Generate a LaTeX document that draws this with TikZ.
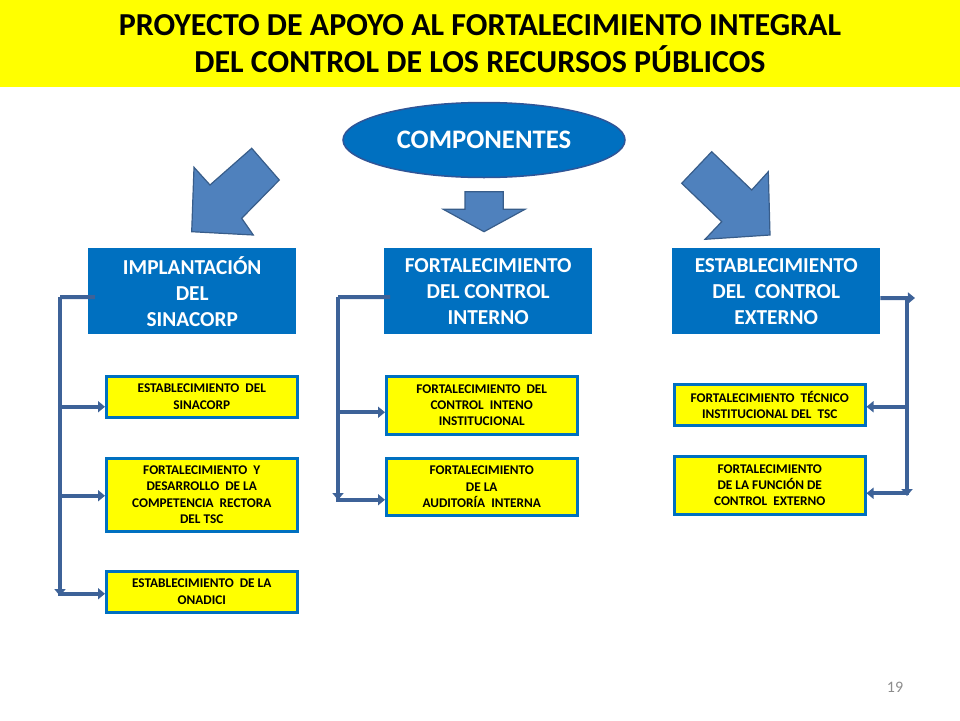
\documentclass[tikz,border=0pt]{standalone}
\usepackage{fontspec}
\setmainfont{Carlito}
\usetikzlibrary{shapes.geometric,arrows.meta}
\definecolor{ttlyellow}{HTML}{FFFF00}
\definecolor{boxblue}{HTML}{0070C0}
\definecolor{ellborder}{HTML}{2F5597}
\definecolor{arrfill}{HTML}{4F81BD}
\definecolor{arrdraw}{HTML}{385D8A}
\definecolor{connc}{HTML}{3D6298}
\definecolor{pgnum}{HTML}{8C8C8C}
\tikzset{
  bluebox/.style={anchor=north west, fill=boxblue, text=white, font=\bfseries\fontsize{21.3}{26}\selectfont,
    align=center, minimum width=208pt, minimum height=86pt, inner sep=0pt},
  ybox/.style={anchor=north west, fill=ttlyellow, draw=boxblue, line width=2.5pt, text=black,
    font=\bfseries\fontsize{13.3}{16.3}\selectfont, align=center, minimum width=191pt, inner sep=0pt},
  bigarrow/.style={fill=arrfill, draw=arrdraw, line width=1.2pt, line join=miter},
  conn/.style={draw=connc, line width=4pt},
  tipend/.style={-{Triangle[width=11pt,length=7pt]}},
}
\begin{document}
\begin{tikzpicture}[x=1pt,y=-1pt]
\useasboundingbox (0,0) rectangle (960,720);
% header
\fill[ttlyellow] (0,0) rectangle (960,87);
\node[font=\bfseries\fontsize{32}{37}\selectfont, align=center] (title) at (480,44)
  {PROYECTO DE APOYO AL FORTALECIMIENTO INTEGRAL\\DEL CONTROL DE LOS RECURSOS PÚBLICOS};
% ellipse
\node[ellipse, fill=boxblue, draw=ellborder, line width=1.5pt, minimum width=282pt, minimum height=75pt,
  inner sep=0pt, text=white, font=\bfseries\fontsize{26.7}{30}\selectfont] (comp) at (484,140) {COMPONENTES};
% big arrows
\path[bigarrow] (251.7,148.3) -- (279.3,180) -- (241.7,218.3) -- (253.3,235) -- (191.7,231.7)
  -- (194,167.3) -- (210,185) -- cycle;
\path[bigarrow] (465,191.7) -- (503.3,191.7) -- (503.3,209.3) -- (525,209.3) -- (484,231.7)
  -- (443.3,209.3) -- (465,209.3) -- cycle;
\path[bigarrow] (711.7,151.7) -- (751.7,190) -- (768.3,171.7) -- (770,235) -- (705,239.3)
  -- (721.7,221.7) -- (681.7,183.3) -- cycle;
% blue boxes
\node[bluebox] (b1) at (88,248) {IMPLANTACIÓN\\DEL\\SINACORP};
\node[bluebox] (b2) at (384,248) {FORTALECIMIENTO\\DEL CONTROL\\INTERNO};
\node[bluebox] (b3) at (672,248) {ESTABLECIMIENTO\\DEL\ \ CONTROL\\EXTERNO};
% yellow boxes left
\node[ybox, minimum height=41pt] (y11) at (105,375) {ESTABLECIMIENTO\ \ DEL\\SINACORP};
\node[ybox, minimum height=73pt] (y12) at (105,457) {FORTALECIMIENTO\ \ Y\\DESARROLLO\ \ DE LA\\COMPETENCIA\ \ RECTORA\\DEL TSC};
\node[ybox, minimum height=41pt] (y13) at (105,570) {ESTABLECIMIENTO\ \ DE LA\\ONADICI};
% yellow boxes middle
\node[ybox, minimum height=58pt] (y21) at (385,375) {FORTALECIMIENTO\ \ DEL\\CONTROL\ \ INTENO\\INSTITUCIONAL};
\node[ybox, minimum height=57pt] (y22) at (385,457) {FORTALECIMIENTO\\DE LA\\AUDITORÍA\ \ INTERNA};
% yellow boxes right
\node[ybox, minimum height=41pt] (y31) at (673,383) {FORTALECIMIENTO\ \ TÉCNICO\\INSTITUCIONAL DEL\ \ TSC};
\node[ybox, minimum height=58pt] (y32) at (673,455) {FORTALECIMIENTO\\DE LA FUNCIÓN DE\\CONTROL\ \ EXTERNO};
% connector corner points
\coordinate (L0) at (60,297);
\coordinate (M0) at (338,297);
\coordinate (R0) at (907,298);
% left connectors
\draw[conn] ([xshift=7pt,yshift=-6pt]b1.west) -- (L0);
\draw[conn, tipend] (L0) -- ([yshift=-299pt]L0);
\draw[conn, tipend] (L0) |- ([yshift=-10pt]y11.west);
\draw[conn, tipend] (L0) |- ([yshift=-1pt]y12.west);
\draw[conn, tipend] (L0) |- ([yshift=-2pt]y13.west);
% middle connectors
\draw[conn] ([xshift=6pt,yshift=-6pt]b2.west) -- (M0);
\draw[conn, tipend] (M0) -- ([yshift=-203pt]M0);
\draw[conn, tipend] (M0) |- ([yshift=-7pt]y21.west);
\draw[conn, tipend] (M0) |- ([yshift=-13pt]y22.west);
% right connectors
\draw[conn, tipend] ([yshift=-7pt]b3.east) -- ([xshift=8pt]R0);
\draw[conn, tipend] (R0) -- ([yshift=-198pt]R0);
\draw[conn, tipend] (R0) |- ([yshift=-2pt]y31.east);
\draw[conn, tipend] (R0) |- ([yshift=-8pt]y32.east);
% page number
\node[text=pgnum, font=\fontsize{16}{18}\selectfont] (pg) at (895,687) {19};
\end{tikzpicture}
\end{document}
